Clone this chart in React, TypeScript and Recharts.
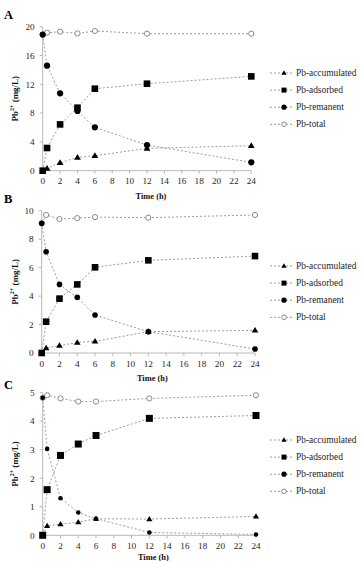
import React from 'react';
import { LineChart, Line, XAxis, YAxis, Legend } from 'recharts';

// Sampling times (h)
const hours = [0, 0.5, 2, 4, 6, 12, 24];
const hourTicks = [0, 2, 4, 6, 8, 10, 12, 14, 16, 18, 20, 22, 24];

// Panel A
const accumulatedA = [0, 0.32, 1.1, 1.85, 2.08, 3.1, 3.47];
const adsorbedA = [0, 3.15, 6.43, 8.75, 11.39, 12.08, 13.1];
const remanentA = [18.9, 14.58, 10.74, 8.29, 6.02, 3.56, 1.16];
const totalA = [18.9, 19.17, 19.3, 19.07, 19.4, 19.03, 19.03];
const yTicksA = [0, 4, 8, 12, 16, 20];

// Panel B
const accumulatedB = [0, 0.35, 0.52, 0.73, 0.82, 1.5, 1.59];
const adsorbedB = [0, 2.2, 3.82, 4.82, 6.02, 6.51, 6.81];
const remanentB = [9.11, 7.12, 4.82, 3.91, 2.67, 1.5, 0.28];
const totalB = [9.11, 9.7, 9.41, 9.48, 9.55, 9.51, 9.7];
const yTicksB = [0, 2, 4, 6, 8, 10];

// Panel C
const accumulatedC = [0, 0.33, 0.39, 0.46, 0.58, 0.57, 0.66];
const adsorbedC = [0, 1.6, 2.8, 3.2, 3.5, 4.1, 4.2];
const remanentC = [4.82, 3.03, 1.3, 0.8, 0.58, 0.1, 0.03];
const totalC = [4.82, 4.91, 4.8, 4.69, 4.69, 4.8, 4.91];
const yTicksC = [0, 1, 2, 3, 4, 5];

const seriesNames = ['Pb-accumulated', 'Pb-adsorbed', 'Pb-remanent', 'Pb-total'];

const FONT = '"Liberation Serif", "Times New Roman", Times, serif';
const LINE_GREY = '#9c9c9c';
const AXIS_GREY = '#b8b8b8';
const TEXT = '#262626';

type Shape = 'triangle' | 'square' | 'disc' | 'ring';

type SeriesDef = { key: string; name: string; shape: Shape };

// drawing order: open circles underneath, filled markers on top
const SERIES: SeriesDef[] = [
  { key: 'total', name: seriesNames[3], shape: 'ring' },
  { key: 'accumulated', name: seriesNames[0], shape: 'triangle' },
  { key: 'adsorbed', name: seriesNames[1], shape: 'square' },
  { key: 'remanent', name: seriesNames[2], shape: 'disc' },
];
const LEGEND_ORDER: SeriesDef[] = [SERIES[1], SERIES[2], SERIES[3], SERIES[0]];

type Sizes = { tri: number; sq: number; disc: number; ring: number };

function marker(shape: Shape, cx: number, cy: number, sz: Sizes, key?: string) {
  switch (shape) {
    case 'triangle': {
      const w = sz.tri;
      const h = w * 0.85;
      return (
        <polygon
          key={key}
          points={`${cx},${cy - h * 0.6} ${cx + w / 2},${cy + h * 0.4} ${cx - w / 2},${cy + h * 0.4}`}
          fill="#000"
        />
      );
    }
    case 'square': {
      const a = sz.sq;
      return <rect key={key} x={cx - a / 2} y={cy - a / 2} width={a} height={a} fill="#000" />;
    }
    case 'disc':
      return <circle key={key} cx={cx} cy={cy} r={sz.disc} fill="#000" />;
    default:
      return (
        <circle key={key} cx={cx} cy={cy} r={sz.ring} fill="#fff" stroke="#8a8a8a" strokeWidth={1} />
      );
  }
}

type PanelCfg = {
  letter: string;
  accumulated: number[];
  adsorbed: number[];
  remanent: number[];
  total: number[];
  yTicks: number[];
  chartTop: number;
  plotTop: number;
  plotBottom: number;
  plotLeft: number;
  plotRight: number;
  legendTop: number;
  letterTop: number;
  titleGap: number;
  sizes: Sizes;
};

const panels: PanelCfg[] = [
  {
    letter: 'A',
    accumulated: accumulatedA,
    adsorbed: adsorbedA,
    remanent: remanentA,
    total: totalA,
    yTicks: yTicksA,
    chartTop: 0,
    plotTop: 26.7,
    plotBottom: 170.7,
    plotLeft: 42.7,
    plotRight: 251.3,
    legendTop: 65,
    letterTop: 8,
    titleGap: 25.5,
    sizes: { tri: 6.8, sq: 6.6, disc: 3.1, ring: 2.6 },
  },
  {
    letter: 'B',
    accumulated: accumulatedB,
    adsorbed: adsorbedB,
    remanent: remanentB,
    total: totalB,
    yTicks: yTicksB,
    chartTop: 184.3,
    plotTop: 211,
    plotBottom: 353.3,
    plotLeft: 41.7,
    plotRight: 255,
    legendTop: 258,
    letterTop: 192,
    titleGap: 25,
    sizes: { tri: 6.6, sq: 6.6, disc: 2.8, ring: 2.6 },
  },
  {
    letter: 'C',
    accumulated: accumulatedC,
    adsorbed: adsorbedC,
    remanent: remanentC,
    total: totalC,
    yTicks: yTicksC,
    chartTop: 366,
    plotTop: 392.7,
    plotBottom: 535.3,
    plotLeft: 42.7,
    plotRight: 256,
    legendTop: 432,
    letterTop: 378,
    titleGap: 22,
    sizes: { tri: 6.2, sq: 7, disc: 2.3, ring: 2.6 },
  },
];

const LEGEND_W = 92;
const LEGEND_H = 70;
const LEGEND_LEFT = 268;
const ROW_GAP = 17.1;

function LegendBox() {
  const legendSizes: Sizes = { tri: 5.2, sq: 5, disc: 2.6, ring: 2.3 };
  return (
    <svg width={LEGEND_W} height={LEGEND_H} style={{ display: 'block', overflow: 'visible' }}>
      {LEGEND_ORDER.map((s, i) => {
        const y = 8 + i * ROW_GAP;
        return (
          <g key={s.key}>
            <line x1={2} x2={25} y1={y} y2={y} stroke={LINE_GREY} strokeWidth={1} strokeDasharray="2 2" />
            {marker(s.shape, 16, y, legendSizes)}
            <text
              x={28}
              y={y}
              dominantBaseline="central"
              fontFamily={FONT}
              fontSize={9.4}
              fill={TEXT}
            >
              {s.name}
            </text>
          </g>
        );
      })}
    </svg>
  );
}

function Panel({ cfg }: { cfg: PanelCfg }) {
  const rows = hours.map((h, i) => ({
    h,
    accumulated: cfg.accumulated[i],
    adsorbed: cfg.adsorbed[i],
    remanent: cfg.remanent[i],
    total: cfg.total[i],
  }));
  const xAxisH = 34;
  const chartH = cfg.plotBottom - cfg.chartTop + xAxisH;
  const yMax = cfg.yTicks[cfg.yTicks.length - 1];

  const xTitle = (props: any) => {
    const vb = props.viewBox || {};
    const cx = vb.x + vb.width / 2 + 4;
    const cy = vb.y + cfg.titleGap;
    return (
      <text
        x={cx}
        y={cy}
        textAnchor="middle"
        dominantBaseline="central"
        fontFamily={FONT}
        fontWeight="bold"
        fontSize={8.4}
        fill="#111"
      >
        Time (h)
      </text>
    );
  };

  const yTitle = (props: any) => {
    const vb = props.viewBox || {};
    const cx = 15;
    const cy = vb.y + vb.height / 2;
    return (
      <text
        transform={`rotate(-90 ${cx} ${cy})`}
        x={cx}
        y={cy}
        textAnchor="middle"
        dominantBaseline="central"
        fontFamily={FONT}
        fontWeight="bold"
        fontSize={9}
        fill="#111"
      >
        Pb
        <tspan fontSize={6} dy={-3}>
          2+
        </tspan>
        <tspan dy={3}> (mg/L)</tspan>
      </text>
    );
  };

  const tickStyle = { fontFamily: FONT, fontSize: 9.2, fill: TEXT };

  return (
    <>
      <div
        style={{
          position: 'absolute',
          left: 4,
          top: cfg.letterTop,
          fontFamily: FONT,
          fontWeight: 'bold',
          fontSize: 12.5,
          lineHeight: '15px',
          color: '#000',
        }}
      >
        {cfg.letter}
      </div>
      <div style={{ position: 'absolute', left: 0, top: cfg.chartTop }}>
        <LineChart
          width={362}
          height={chartH}
          data={rows}
          margin={{
            top: cfg.plotTop - cfg.chartTop,
            right: 362 - cfg.plotRight - LEGEND_W,
            bottom: 0,
            left: 0,
          }}
        >
          <XAxis
            dataKey="h"
            type="number"
            domain={[0, 24]}
            ticks={hourTicks}
            interval={0}
            height={xAxisH}
            tickSize={3}
            tickMargin={4}
            stroke={AXIS_GREY}
            tick={tickStyle}
            label={{ content: xTitle }}
          />
          <YAxis
            type="number"
            domain={[0, yMax]}
            ticks={cfg.yTicks}
            interval={0}
            width={cfg.plotLeft}
            tickSize={3}
            tickMargin={5}
            stroke={AXIS_GREY}
            tick={tickStyle}
            label={{ content: yTitle }}
          />
          <Legend
            layout="vertical"
            align="right"
            verticalAlign="top"
            width={LEGEND_W}
            height={LEGEND_H}
            wrapperStyle={{
              left: LEGEND_LEFT,
              top: cfg.legendTop - cfg.chartTop,
              right: 'auto',
              bottom: 'auto',
            }}
            content={() => <LegendBox />}
          />
          {SERIES.map((s) => (
            <Line
              key={s.key}
              dataKey={s.key}
              name={s.name}
              type="linear"
              stroke={LINE_GREY}
              strokeWidth={1}
              strokeDasharray="2 2"
              isAnimationActive={false}
              activeDot={false}
              dot={(p: any) => marker(s.shape, p.cx, p.cy, cfg.sizes, `${s.key}-${p.index}`)}
            />
          ))}
        </LineChart>
      </div>
    </>
  );
}

export default function App() {
  return (
    <div
      style={{
        position: 'absolute',
        left: 0,
        top: 0,
        width: 362,
        height: 561,
        overflow: 'hidden',
        background: '#fff',
      }}
    >
      {panels.map((cfg) => (
        <Panel key={cfg.letter} cfg={cfg} />
      ))}
    </div>
  );
}
